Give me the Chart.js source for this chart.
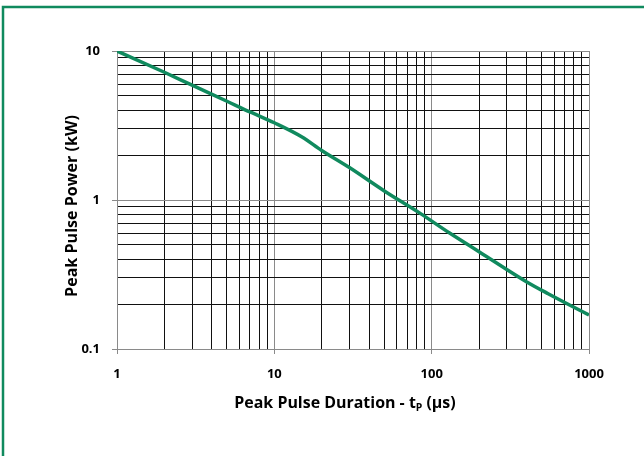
<!DOCTYPE html>
<html>
<head>
<meta charset="utf-8">
<script src="https://cdn.jsdelivr.net/npm/chart.js@4/dist/chart.umd.min.js"></script>
<style>
  html, body { margin: 0; padding: 0; background: #fff; }
  #wrap { position: relative; width: 644px; height: 456px; }
</style>
</head>
<body>
<div id="wrap"><canvas id="pulse-chart"></canvas></div>
<script>
// values
const durations = [1, 2, 3, 5, 7, 10, 15, 20, 30, 50, 85, 130, 200, 400, 550, 1000];
const powers = [10, 7.2, 5.9, 4.6, 3.9, 3.3, 2.65, 2.15, 1.65, 1.15, 0.81, 0.6, 0.45, 0.283, 0.235, 0.169];

const xGrid = [1, 2, 3, 4, 5, 6, 7, 8, 9, 10, 20, 30, 40, 50, 60, 70, 80, 90, 100, 200, 300, 400, 500, 600, 700, 800, 900, 1000];
const yGrid = [0.1, 0.2, 0.3, 0.4, 0.5, 0.6, 0.7, 0.8, 0.9, 1, 2, 3, 4, 5, 6, 7, 8, 9, 10];
const xLabels = [1, 10, 100, 1000];
const yLabels = [0.1, 1, 10];

const xTitle = ['Peak Pulse Duration - t', 'P', ' (\u00b5s)'];
const yTitle = 'Peak Pulse Power (kW)';

const FONT = '"Open Sans", Lato, sans-serif';
const GREEN = '#108a5e';

function isLabel(list, v) {
    return list.some(m => Math.abs(m - v) < 1e-9);
}

// font size that makes a bold string span a given width
function fitSize(ctx, text, width) {
    ctx.font = 'bold 20px ' + FONT;
    return 20 * width / ctx.measureText(text).width;
}

const frameAndTitles = {
    id: 'frameAndTitles',
    afterDraw(chart) {
        const ctx = chart.ctx;
        const area = chart.chartArea;
        ctx.save();
        // green frame, top and left
        ctx.strokeStyle = GREEN;
        ctx.lineWidth = 2.5;
        ctx.beginPath();
        ctx.moveTo(3, 456);
        ctx.lineTo(3, 7);
        ctx.lineTo(644, 7);
        ctx.stroke();

        ctx.fillStyle = '#000';
        // y title
        const ys = fitSize(ctx, yTitle, 182);
        ctx.font = 'bold ' + ys + 'px ' + FONT;
        ctx.textAlign = 'center';
        ctx.textBaseline = 'middle';
        ctx.translate(72, 206);
        ctx.rotate(-Math.PI / 2);
        ctx.fillText(yTitle, 0, 0);
        ctx.setTransform(1, 0, 0, 1, 0, 0);
        ctx.scale(chart.currentDevicePixelRatio, chart.currentDevicePixelRatio);

        // x title with subscript P
        const xs = fitSize(ctx, xTitle[0] + xTitle[2], 215);
        const big = 'bold ' + xs + 'px ' + FONT;
        const small = 'bold ' + (xs * 0.65) + 'px ' + FONT;
        ctx.textAlign = 'left';
        ctx.textBaseline = 'alphabetic';
        ctx.font = big;
        const w0 = ctx.measureText(xTitle[0]).width;
        const w2 = ctx.measureText(xTitle[2]).width;
        ctx.font = small;
        const w1 = ctx.measureText(xTitle[1]).width;
        let x = 345 - (w0 + w1 + w2) / 2;
        const base = 408;
        ctx.font = big;
        ctx.fillText(xTitle[0], x, base);
        x += w0;
        ctx.font = small;
        ctx.fillText(xTitle[1], x, base + 3);
        x += w1;
        ctx.font = big;
        ctx.fillText(xTitle[2], x, base);
        ctx.restore();
    }
};

function gridColor(list) {
    return (c) => c.tick && isLabel(list, c.tick.value) ? '#8a8a8a' : '#111';
}
function tickColor(list) {
    return (c) => c.tick && isLabel(list, c.tick.value) ? '#8a8a8a' : 'rgba(0,0,0,0)';
}

new Chart(document.getElementById('pulse-chart'), {
    type: 'scatter',
    data: {
        datasets: [{
            label: 'Peak Pulse Power',
            data: durations.map((d, i) => ({ x: d, y: powers[i] })),
            showLine: true,
            borderColor: GREEN,
            backgroundColor: GREEN,
            borderWidth: 3.5,
            pointRadius: 0,
            cubicInterpolationMode: 'monotone'
        }]
    },
    options: {
        responsive: true,
        maintainAspectRatio: false,
        animation: false,
        layout: { padding: { left: 0, right: 55, top: 51, bottom: 0 } },
        plugins: { legend: { display: false }, tooltip: { enabled: false } },
        scales: {
            x: {
                type: 'logarithmic',
                min: 1,
                max: 1000,
                afterBuildTicks: (s) => { s.ticks = xGrid.map(v => ({ value: v })); },
                afterFit: (s) => { s.height = 107; },
                border: { display: true, color: '#8a8a8a', width: 1 },
                grid: { color: gridColor(xLabels), tickColor: tickColor(xLabels), tickLength: 5, lineWidth: 1 },
                ticks: {
                    autoSkip: false,
                    maxRotation: 0,
                    padding: 12,
                    color: '#000',
                    font: { family: FONT, size: 13, weight: 'bold' },
                    callback: (v) => isLabel(xLabels, v) ? String(v) : ''
                }
            },
            y: {
                type: 'logarithmic',
                min: 0.1,
                max: 10,
                afterBuildTicks: (s) => { s.ticks = yGrid.map(v => ({ value: v })); },
                afterFit: (s) => { s.width = 117; },
                border: { display: true, color: '#8a8a8a', width: 1 },
                grid: { color: gridColor(yLabels), tickColor: tickColor(yLabels), tickLength: 5, lineWidth: 1 },
                ticks: {
                    autoSkip: false,
                    padding: 12,
                    color: '#000',
                    font: { family: FONT, size: 13, weight: 'bold' },
                    callback: (v) => isLabel(yLabels, v) ? String(v) : ''
                }
            }
        }
    },
    plugins: [frameAndTitles]
});
</script>
</body>
</html>
